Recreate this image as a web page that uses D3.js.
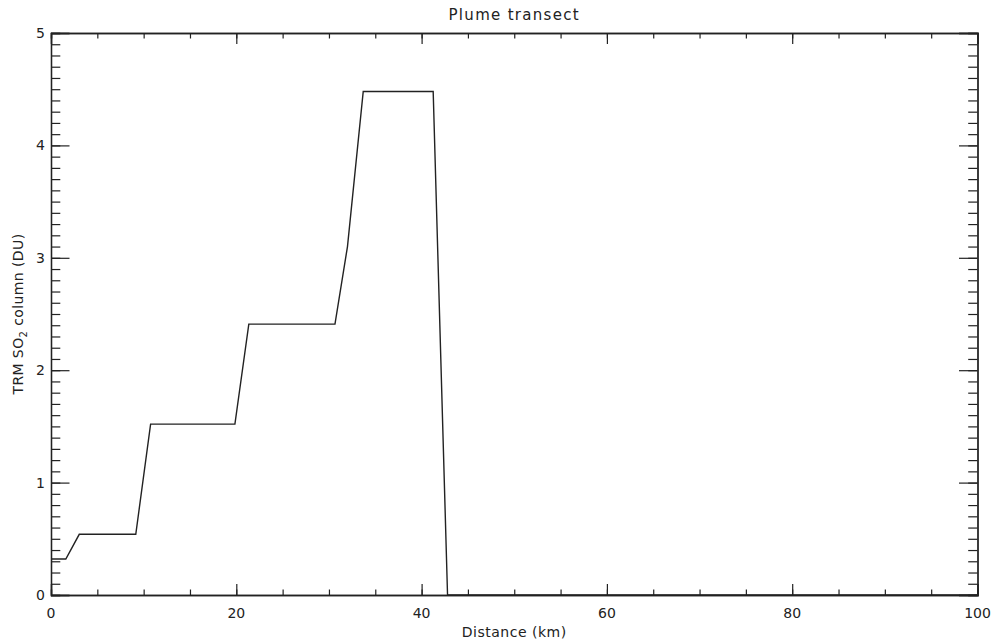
<!DOCTYPE html>
<html>
<head>
<meta charset="utf-8">
<script src="https://cdn.jsdelivr.net/npm/d3@7/dist/d3.min.js"></script>
<style>
  body { margin: 0; background: #fff; }
  svg { display: block; }
  text { font-family: "DejaVu Sans", sans-serif; fill: #222; }
</style>
</head>
<body>
<svg id="chart" width="995" height="642"></svg>
<script>
// ---- data ----
const distance = [0, 1.6, 3.05, 9.15, 10.75, 19.85, 21.35, 30.65, 32.0, 33.7, 41.25, 42.8, 50, 60, 70, 80, 90, 100];
const so2Column = [0.32, 0.32, 0.54, 0.54, 1.52, 1.52, 2.41, 2.41, 3.1, 4.48, 4.48, 0, 0, 0, 0, 0, 0, 0];
const xMajorTicks = [0, 20, 40, 60, 80, 100];
const yMajorTicks = [0, 1, 2, 3, 4, 5];
const titleText = "Plume transect";
const xLabelText = "Distance (km)";

// ---- layout ----
const svg = d3.select("#chart");
const mLeft = 51, mRight = 977.5, mTop = 33, mBottom = 595;
const x = d3.scaleLinear().domain([0, 100]).range([mLeft, mRight]);
const y = d3.scaleLinear().domain([0, 5]).range([mBottom, mTop]);

const axisColor = "#222";
const xMinor = d3.range(0, 100.001, 5);
const yMinor = d3.range(0, 5.0001, 0.1).map(v => +v.toFixed(2));

function styleAxis(g) {
  g.select(".domain").attr("stroke", axisColor).attr("stroke-width", 1.3);
  g.selectAll(".tick line").attr("stroke", axisColor).attr("stroke-width", 1.2);
}

// bottom axis
svg.append("g").attr("transform", `translate(0,${mBottom})`)
  .call(d3.axisTop(x).tickValues(xMinor).tickSize(5.5).tickFormat(""))
  .call(styleAxis);
svg.append("g").attr("transform", `translate(0,${mBottom})`)
  .call(d3.axisTop(x).tickValues(xMajorTicks).tickSize(11).tickFormat(""))
  .call(styleAxis);
svg.append("g").selectAll("text").data(xMajorTicks).join("text")
  .attr("x", d => x(d)).attr("y", mBottom + 23)
  .attr("text-anchor", "middle").style("font-size", "14px")
  .text(d => d3.format("d")(d));

// top axis
svg.append("g").attr("transform", `translate(0,${mTop})`)
  .call(d3.axisBottom(x).tickValues(xMinor).tickSize(5.5).tickFormat(""))
  .call(styleAxis);
svg.append("g").attr("transform", `translate(0,${mTop})`)
  .call(d3.axisBottom(x).tickValues(xMajorTicks).tickSize(11).tickFormat(""))
  .call(styleAxis);

// left axis
svg.append("g").attr("transform", `translate(${mLeft},0)`)
  .call(d3.axisRight(y).tickValues(yMinor).tickSize(9.3).tickFormat(""))
  .call(styleAxis);
svg.append("g").attr("transform", `translate(${mLeft},0)`)
  .call(d3.axisRight(y).tickValues(yMajorTicks).tickSize(18.5).tickFormat(""))
  .call(styleAxis);
svg.append("g").selectAll("text").data(yMajorTicks).join("text")
  .attr("x", mLeft - 6).attr("y", d => y(d) + 5)
  .attr("text-anchor", "end").style("font-size", "14px")
  .text(d => d3.format("d")(d));

// right axis
svg.append("g").attr("transform", `translate(${mRight},0)`)
  .call(d3.axisLeft(y).tickValues(yMinor).tickSize(9.3).tickFormat(""))
  .call(styleAxis);
svg.append("g").attr("transform", `translate(${mRight},0)`)
  .call(d3.axisLeft(y).tickValues(yMajorTicks).tickSize(18.5).tickFormat(""))
  .call(styleAxis);

// data line
const line = d3.line().x((d, i) => x(distance[i])).y(d => y(d));
svg.append("path").datum(so2Column)
  .attr("d", line).attr("fill", "none")
  .attr("stroke", "#222").attr("stroke-width", 1.4);

// title
svg.append("text").attr("x", (mLeft + mRight) / 2).attr("y", 20)
  .attr("text-anchor", "middle").style("font-size", "15px")
  .style("letter-spacing", "1.3px").text(titleText);

// x label
svg.append("text").attr("x", (mLeft + mRight) / 2).attr("y", 637)
  .attr("text-anchor", "middle").style("font-size", "14px")
  .style("letter-spacing", "0.5px").text(xLabelText);

// y label with subscript
const yl = svg.append("text")
  .attr("transform", `translate(23,${(mTop + mBottom) / 2}) rotate(-90)`)
  .attr("text-anchor", "middle").style("font-size", "14px")
  .style("letter-spacing", "0.4px");
yl.append("tspan").text("TRM SO");
yl.append("tspan").attr("dy", 4).style("font-size", "10px").text("2");
yl.append("tspan").attr("dy", -4).text(" column (DU)");
</script>
</body>
</html>
